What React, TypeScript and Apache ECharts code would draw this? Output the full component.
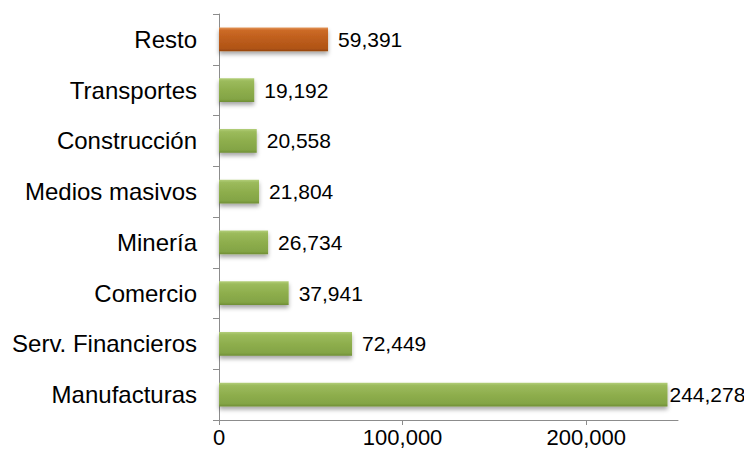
import React, { useEffect, useRef } from "react";
import * as echarts from "echarts";

const categories = [
  "Manufacturas",
  "Serv. Financieros",
  "Comercio",
  "Minería",
  "Medios masivos",
  "Construcción",
  "Transportes",
  "Resto",
];
const values = [244278, 72449, 37941, 26734, 21804, 20558, 19192, 59391];
const highlighted = ["Resto"];
const xTicks = [0, 100000, 200000];
const xMax = 250000;

const fmt = (v: number) => v.toLocaleString("en-US");

const greenGrad = () =>
  new echarts.graphic.LinearGradient(0, 0, 0, 1, [
    { offset: 0, color: "#b3cf7a" },
    { offset: 0.12, color: "#9cbb5c" },
    { offset: 0.5, color: "#8eae4d" },
    { offset: 0.88, color: "#83a445" },
    { offset: 1, color: "#6e8d34" },
  ]);
const orangeGrad = () =>
  new echarts.graphic.LinearGradient(0, 0, 0, 1, [
    { offset: 0, color: "#e4965a" },
    { offset: 0.12, color: "#cc6a26" },
    { offset: 0.5, color: "#bd5d1b" },
    { offset: 0.88, color: "#b05417" },
    { offset: 1, color: "#94450f" },
  ]);

export default function App() {
  const ref = useRef<HTMLDivElement>(null);
  useEffect(() => {
    if (!ref.current) return;
    const chart = echarts.init(ref.current, undefined, { renderer: "svg" });
    const font = "Liberation Sans";
    chart.setOption({
      animation: false,
      textStyle: { fontFamily: font },
      grid: { left: 219, right: 74, top: 14, bottom: 40, containLabel: false },
      xAxis: {
        type: "value",
        min: 0,
        max: xMax,
        interval: 100000,
        splitLine: { show: false },
        axisLine: { show: true, lineStyle: { color: "#8c8c8c", width: 1 } },
        axisTick: {
          show: true,
          length: 5,
          customValues: xTicks,
          lineStyle: { color: "#8c8c8c" },
        },
        axisLabel: {
          customValues: xTicks,
          formatter: (v: number) => fmt(v),
          color: "#000",
          fontSize: 22,
          fontFamily: font,
          margin: 6,
        },
      },
      yAxis: {
        type: "category",
        data: categories,
        axisLine: { show: true, lineStyle: { color: "#8c8c8c", width: 1 } },
        axisTick: { show: true, length: 6, lineStyle: { color: "#8c8c8c" } },
        axisLabel: {
          color: "#000",
          fontSize: 24,
          fontFamily: font,
          margin: 22,
        },
        splitLine: { show: false },
      },
      series: [
        {
          type: "bar",
          barWidth: "47%",
          data: categories.map((c, i) => ({
            value: values[i],
            itemStyle: {
              color: highlighted.includes(c) ? orangeGrad() : greenGrad(),
              shadowColor: "rgba(0,0,0,0.35)",
              shadowBlur: 4,
              shadowOffsetY: 3,
              shadowOffsetX: 0,
            },
            label: {
              distance: values[i] === Math.max(...values) ? 2 : 10,
            },
          })),
          label: {
            show: true,
            position: "right",
            color: "#000",
            fontSize: 21,
            fontFamily: font,
            formatter: (p: any) => fmt(p.value),
          },
        },
      ],
    });
    return () => chart.dispose();
  }, []);
  return <div ref={ref} style={{ width: 752, height: 460, margin: -8 }} />;
}
